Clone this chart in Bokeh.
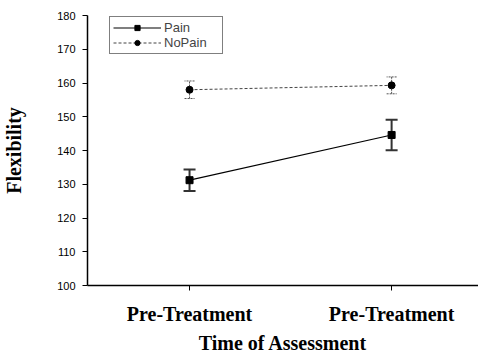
from bokeh.plotting import figure
from bokeh.models import (Range1d, FixedTicker, ColumnDataSource, Whisker, TeeHead,
                          Legend, LegendItem)
from bokeh.embed import file_html
from bokeh.resources import INLINE

# ---- data ----
times = [1, 2]
time_labels = ["Pre-Treatment", "Pre-Treatment"]
pain_mean = [131.2, 144.6]
pain_err = [3.2, 4.5]
nopain_mean = [158.0, 159.3]
nopain_err = [2.6, 2.5]
y_ticks = [100, 110, 120, 130, 140, 150, 160, 170, 180]

p = figure(frame_width=391, frame_height=270, output_backend="svg", toolbar_location=None,
           x_range=Range1d(0.495, 2.43), y_range=Range1d(100, 180),
           min_border_left=86, min_border_right=0, min_border_top=15,
           min_border_bottom=71)
p.outline_line_color = None
p.xgrid.grid_line_color = None
p.ygrid.grid_line_color = None
p.background_fill_color = "white"
p.border_fill_color = "white"

pain_src = ColumnDataSource(dict(x=times, y=pain_mean,
                                 lo=[m - e for m, e in zip(pain_mean, pain_err)],
                                 hi=[m + e for m, e in zip(pain_mean, pain_err)]))
nop_src = ColumnDataSource(dict(x=times, y=nopain_mean,
                                lo=[m - e for m, e in zip(nopain_mean, nopain_err)],
                                hi=[m + e for m, e in zip(nopain_mean, nopain_err)]))

# error bars
w1 = Whisker(source=pain_src, base="x", upper="hi", lower="lo",
             line_color="#333333", line_width=2,
             upper_head=TeeHead(size=12, line_color="#333333", line_width=2),
             lower_head=TeeHead(size=12, line_color="#333333", line_width=2))
w2 = Whisker(source=nop_src, base="x", upper="hi", lower="lo",
             line_color="#555555", line_width=1, line_dash="2 1",
             upper_head=TeeHead(size=10, line_color="#555555", line_width=1, line_dash="2 1"),
             lower_head=TeeHead(size=10, line_color="#555555", line_width=1, line_dash="2 1"))
p.add_layout(w1)
p.add_layout(w2)

l1 = p.line("x", "y", source=pain_src, line_color="black", line_width=1.2)
s1 = p.scatter("x", "y", source=pain_src, marker="square", size=7,
               fill_color="black", line_color="black")
l2 = p.line("x", "y", source=nop_src, line_color="#444444", line_width=1,
            line_dash="3 2")
s2 = p.scatter("x", "y", source=nop_src, marker="circle", size=7,
               fill_color="black", line_color="black")

# axes
p.xaxis.ticker = FixedTicker(ticks=times)
p.xaxis.major_label_overrides = {t: lab for t, lab in zip(times, time_labels)}
p.xaxis.minor_tick_line_color = None
p.xaxis.major_tick_in = 0
p.xaxis.major_tick_out = 5
p.xaxis.axis_line_width = 1.5
p.xaxis.axis_line_color = "black"
p.xaxis.major_tick_line_color = "black"
p.xaxis.major_label_text_font = "Liberation Serif"
p.xaxis.major_label_text_font_style = "bold"
p.xaxis.major_label_text_font_size = "20px"
p.xaxis.major_label_text_color = "black"
p.xaxis.major_label_standoff = 12
p.xaxis.axis_label = "Time of Assessment"
p.xaxis.axis_label_text_font = "Liberation Serif"
p.xaxis.axis_label_text_font_style = "bold"
p.xaxis.axis_label_text_font_size = "20px"
p.xaxis.axis_label_text_color = "black"
p.xaxis.axis_label_standoff = 4

p.yaxis.ticker = FixedTicker(ticks=y_ticks)
p.yaxis.minor_tick_line_color = None
p.yaxis.major_tick_in = 0
p.yaxis.major_tick_out = 5
p.yaxis.axis_line_width = 1.5
p.yaxis.axis_line_color = "black"
p.yaxis.major_tick_line_color = "black"
p.yaxis.major_label_text_font = "Liberation Sans"
p.yaxis.major_label_text_font_size = "11px"
p.yaxis.major_label_text_color = "black"
p.yaxis.major_label_standoff = 7
p.yaxis.axis_label = "Flexibility"
p.yaxis.axis_label_text_font = "Liberation Serif"
p.yaxis.axis_label_text_font_style = "bold"
p.yaxis.axis_label_text_font_size = "20px"
p.yaxis.axis_label_text_color = "black"
p.yaxis.axis_label_standoff = 29

legend = Legend(items=[LegendItem(label="Pain", renderers=[l1, s1]),
                       LegendItem(label="NoPain", renderers=[l2, s2])],
                location=(22, 231), border_line_color="black", border_line_width=1,
                glyph_width=48, glyph_height=13, label_height=13, label_width=55,
                label_text_font="Liberation Sans", label_text_font_size="13px",
                label_standoff=3, padding=3, spacing=0, margin=0,
                background_fill_alpha=1)
p.add_layout(legend)

open("out.html", "w").write(file_html(p, INLINE))
